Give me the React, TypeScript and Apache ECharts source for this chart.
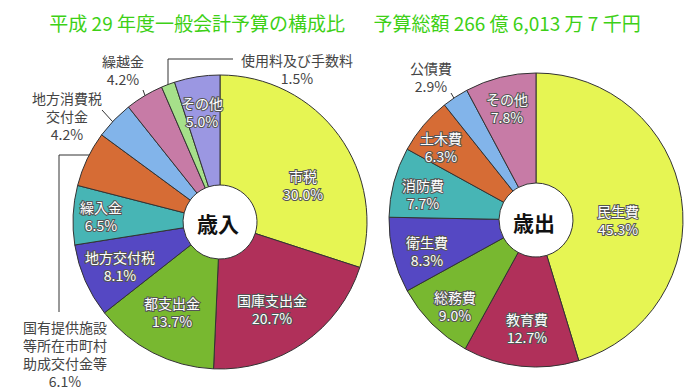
import React, { useEffect, useRef } from "react";
import * as echarts from "echarts";

const titleText = "平成 29 年度一般会計予算の構成比\u3000\u2002予算総額 266 億 6,013 万 7 千円";

const revenueCategories = [
  "市税",
  "国庫支出金",
  "都支出金",
  "地方交付税",
  "繰入金",
  "国有提供施設\n等所在市町村\n助成交付金等",
  "地方消費税\n交付金",
  "繰越金",
  "使用料及び手数料",
  "その他",
];
const revenueValues = [30.0, 20.7, 13.7, 8.1, 6.5, 6.1, 4.2, 4.2, 1.5, 5.0];
const revenueColors = [
  "#e6f553", "#b0305a", "#78b830", "#5548c3", "#47b5b5",
  "#d66c35", "#82b4ea", "#c77ba6", "#a6e08a", "#9b97e2",
];
const revenueOutside = [false, false, false, false, false, true, true, true, true, false];

const expenditureCategories = ["民生費", "教育費", "総務費", "衛生費", "消防費", "土木費", "公債費", "その他"];
const expenditureValues = [45.3, 12.7, 9.0, 8.3, 7.7, 6.3, 2.9, 7.8];
const expenditureColors = [
  "#e6f553", "#b0305a", "#78b830", "#5548c3", "#47b5b5", "#d66c35", "#82b4ea", "#c77ba6",
];
const expenditureOutside = [false, false, false, false, false, false, true, false];

// label layout (positions only)
const revenueLabelPos: number[][] = [
  [303, 185], [272, 309], [172, 312], [120, 266], [101, 216],
  [65, 354], [67, 116], [123, 70], [297, 69], [202, 112],
];
const revenueLeaders: Record<number, number[][]> = {
  5: [[100, 155], [59, 155], [59, 312]],
  6: [[123, 132], [112, 121], [102, 110]],
  7: [[152, 112], [147, 101], [143, 90]],
  8: [[168, 87], [168, 59], [233, 59]],
};
const expenditureLabelPos: number[][] = [
  [618, 220], [527, 328], [455, 306], [427, 251], [423, 194], [441, 147], [431, 77], [507, 108],
];
const expenditureLeaders: Record<number, number[][]> = {
  6: [[460, 108], [455, 100], [451, 93]],
};

const FONT = '"Noto Sans CJK JP", "Noto Sans", sans-serif';

function buildSeries(
  names: string[],
  values: number[],
  colors: string[],
  outside: boolean[],
  center: number[],
  pos: number[][],
  leaders: Record<number, number[][]>
) {
  return {
    type: "pie",
    center,
    radius: [37, 147],
    startAngle: 90,
    clockwise: true,
    avoidLabelOverlap: false,
    itemStyle: { borderColor: "#333", borderWidth: 1 },
    label: {
      show: true,
      position: "inside",
      fontFamily: FONT,
      fontSize: 14,
      lineHeight: 18,
      color: "#fff",
      textBorderColor: "#555",
      textBorderWidth: 2,
      align: "center",
      formatter: (p: any) => `${p.name}\n${Number(p.value).toFixed(1)}%`,
    },
    labelLine: { show: false, lineStyle: { color: "#333", width: 1 } },
    emphasis: { disabled: true },
    labelLayout: (p: any) => {
      const pt = pos[p.dataIndex];
      const res: any = { x: pt[0], y: pt[1], align: "center", verticalAlign: "middle" };
      if (leaders[p.dataIndex]) res.labelLinePoints = leaders[p.dataIndex];
      return res;
    },
    data: values.map((v, i) => ({
      value: v,
      name: names[i],
      itemStyle: { color: colors[i] },
      ...(outside[i]
        ? {
            label: {
              position: "outside",
              color: "#444",
              textBorderWidth: 0,
              fontSize: 14,
              lineHeight: 18,
              align: "center",
            },
            labelLine: { show: true, length: 10, length2: 10, lineStyle: { color: "#333", width: 1 } },
          }
        : {}),
    })),
  };
}

export default function App() {
  const ref = useRef<HTMLDivElement>(null);
  useEffect(() => {
    if (!ref.current) return;
    const chart = echarts.init(ref.current, undefined, { renderer: "svg" });
    chart.setOption({
      animation: false,
      backgroundColor: "#fff",
      title: {
        text: titleText,
        left: "center",
        top: 8,
        textStyle: { color: "#3dd016", fontSize: 19, fontWeight: "normal", fontFamily: FONT },
      },
      series: [
        buildSeries(revenueCategories, revenueValues, revenueColors, revenueOutside, [220, 222], revenueLabelPos, revenueLeaders),
        buildSeries(expenditureCategories, expenditureValues, expenditureColors, expenditureOutside, [536, 220], expenditureLabelPos, expenditureLeaders),
      ],
      graphic: [
        {
          type: "text",
          x: 218,
          y: 223,
          style: { text: "歳入", fontSize: 21, fontWeight: "bold", fontFamily: FONT, fill: "#111", align: "center", verticalAlign: "middle" },
        },
        {
          type: "text",
          x: 534,
          y: 222,
          style: { text: "歳出", fontSize: 21, fontWeight: "bold", fontFamily: FONT, fill: "#111", align: "center", verticalAlign: "middle" },
        },
      ],
    });
    return () => chart.dispose();
  }, []);
  return <div ref={ref} style={{ position: "fixed", left: 0, top: 0, width: 690, height: 391 }} />;
}
